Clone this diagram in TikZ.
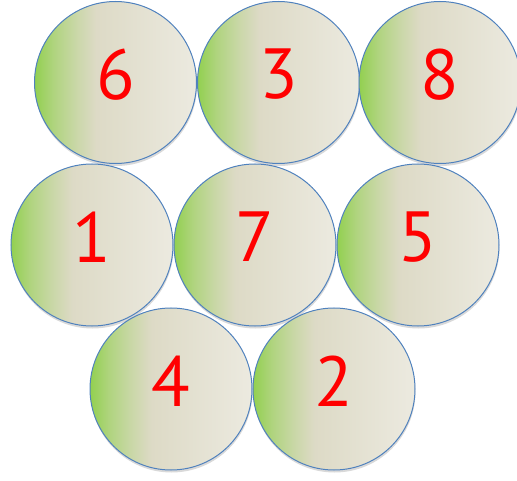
\documentclass[tikz,border=0pt]{standalone}
\usepackage{fontspec}
\newfontfamily\digitfont{PT Sans}
\usetikzlibrary{shadows}
\definecolor{ballgreen}{RGB}{146,208,80}
\definecolor{ballbeige}{RGB}{221,218,198}
\definecolor{balllight}{RGB}{236,234,224}
\definecolor{balledge}{RGB}{79,129,189}
\definecolor{digitred}{RGB}{255,0,0}
\pgfdeclarehorizontalshading{ballshade}{100bp}{color(0bp)=(ballgreen); color(25bp)=(ballgreen); color(31bp)=(ballgreen!60!ballbeige); color(38bp)=(ballgreen!25!ballbeige); color(44bp)=(ballbeige); color(75bp)=(balllight); color(100bp)=(balllight)}
\tikzset{
  ball/.style={circle, minimum size=162pt, inner sep=0pt, draw=balledge, line width=1pt,
    shading=ballshade, drop shadow={shadow xshift=0.5pt, shadow yshift=-2.5pt, opacity=0.25, fill=black!60}},
  digit/.style={text=digitred, font=\digitfont\fontsize{71}{71}\selectfont, inner sep=0pt}
}
\begin{document}
\begin{tikzpicture}[x=1pt,y=-1pt]
\useasboundingbox (0,0) rectangle (517,481);
% row 1
\node[ball] (c6) at (115.5,82.5) {};
\node[ball] (c3) at (278.5,82.5) {};
\node[ball] (c8) at (440,82.5) {};
% row 2
\node[ball] (c1) at (92,245) {};
\node[ball] (c7) at (255,245) {};
\node[ball] (c5) at (418,245) {};
% row 3
\node[ball] (c4) at (171,389) {};
\node[ball] (c2) at (334,389) {};
% digits
\node[digit] (t6) at ([yshift=8pt]c6.center) {6};
\node[digit] (t3) at ([yshift=8pt]c3.center) {3};
\node[digit] (t8) at ([yshift=8pt]c8.center) {8};
\node[digit] (t1) at ([yshift=8pt]c1.center) {1};
\node[digit] (t7) at ([yshift=8pt]c7.center) {7};
\node[digit] (t5) at ([yshift=8pt]c5.center) {5};
\node[digit] (t4) at ([yshift=8pt]c4.center) {4};
\node[digit] (t2) at ([yshift=8pt]c2.center) {2};
\end{tikzpicture}
\end{document}
